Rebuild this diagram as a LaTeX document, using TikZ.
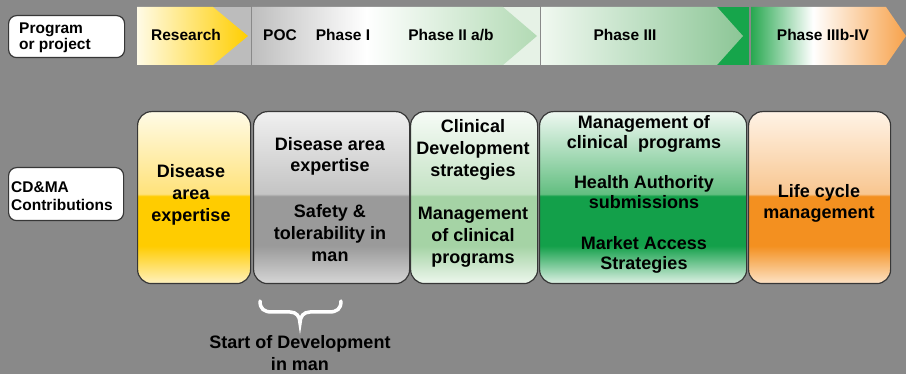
\documentclass[tikz,border=0pt]{standalone}
\usepackage{fontspec}
\setmainfont{Liberation Sans}
\definecolor{bg}{RGB}{137,137,137}
\definecolor{boxline}{RGB}{55,55,55}
\definecolor{resl}{RGB}{255,251,230}
\definecolor{resr}{RGB}{255,206,0}
\definecolor{pocgray}{RGB}{190,190,190}
\definecolor{poclg}{RGB}{178,218,180}
\definecolor{p3l}{RGB}{240,248,240}
\definecolor{p3r}{RGB}{140,198,150}
\definecolor{dgreen}{RGB}{22,165,75}
\definecolor{p4g}{RGB}{40,168,80}
\definecolor{p4o}{RGB}{247,162,75}
\definecolor{gapgray}{RGB}{188,188,188}
\definecolor{gaplg}{RGB}{230,242,230}
% box colours
\definecolor{ya}{HTML}{FFFBE6}\definecolor{yb}{HTML}{FFE27A}\definecolor{yc}{HTML}{FFCC00}\definecolor{yd}{HTML}{FFF2C0}
\definecolor{ga}{HTML}{F0F0F0}\definecolor{gb}{HTML}{C4C4C4}\definecolor{gc}{HTML}{9A9A9A}\definecolor{gd}{HTML}{D6D6D6}
\definecolor{la}{HTML}{F6FBF6}\definecolor{lb}{HTML}{C4E2C4}\definecolor{lc}{HTML}{A5D3A5}\definecolor{ld}{HTML}{EEF7EE}
\definecolor{da}{HTML}{EEF8F1}\definecolor{db}{HTML}{62BE80}\definecolor{dc}{HTML}{13A04A}\definecolor{dd}{HTML}{DFF1E5}
\definecolor{oa}{HTML}{FFF3E6}\definecolor{ob}{HTML}{F8C690}\definecolor{oc}{HTML}{F39020}\definecolor{od}{HTML}{FDE3C6}
\pgfdeclarehorizontalshading{pocshade}{100bp}{color(0bp)=(pocgray); color(25bp)=(pocgray); color(45bp)=(white); color(75bp)=(poclg); color(100bp)=(poclg)}
\pgfdeclarehorizontalshading{pfourshade}{100bp}{color(0bp)=(p4g); color(25bp)=(p4g); color(45bp)=(white); color(75bp)=(p4o); color(100bp)=(p4o)}
\newcommand\myglossshade[5]{\pgfdeclareverticalshading{#1}{100bp}{color(0bp)=(#5); color(25bp)=(#5); color(36bp)=(#4); color(50.5bp)=(#4); color(51bp)=(#3); color(75bp)=(#2); color(100bp)=(#2)}}
\myglossshade{glossy}{ya}{yb}{yc}{yd}
\myglossshade{glossg}{ga}{gb}{gc}{gd}
\myglossshade{glossl}{la}{lb}{lc}{ld}
\myglossshade{glossd}{da}{db}{dc}{dd}
\myglossshade{glosso}{oa}{ob}{oc}{od}
\tikzset{
  lbl/.style={inner sep=0pt, font=\bfseries\fontsize{15.5}{14}\selectfont, text=black},
  sidebox/.style={draw=boxline, line width=1.2pt, fill=white, rounded corners=8pt, anchor=north west, inner sep=0pt},
  boxtxt/.style={inner sep=0pt, anchor=north, align=center, font=\bfseries\fontsize{18}{#1}\selectfont, text=black},
  boxtxt/.default=22,
  cbox/.style={draw=boxline, line width=1.2pt, rounded corners=14pt, anchor=north west, inner sep=0pt,
    shade, shading=#1, minimum height=172pt},
}
\begin{document}
\begin{tikzpicture}[x=1pt,y=-1pt]
\useasboundingbox (0,0) rectangle (906,374);
\fill[bg] (0,0) rectangle (906,374);

% top band
\fill[gapgray] (213,7) rectangle (251,65);
\fill[gaplg] (503,7) rectangle (540,65);
\fill[dgreen] (717,7) rectangle (749,65);
\shade[left color=resl, right color=resr] (137,7) -- (213,7) -- (248,36) -- (213,65) -- (137,65) -- cycle;
\shade[shading=pocshade] (252,7) -- (503,7) -- (537,36) -- (503,65) -- (252,65) -- cycle;
\shade[left color=p3l, right color=p3r] (541,7) -- (717,7) -- (743,36) -- (717,65) -- (541,65) -- cycle;
\shade[shading=pfourshade] (751,7) -- (886,7) -- (906,36) -- (886,65) -- (751,65) -- cycle;

\node[lbl, anchor=base] (research) at (186,41) {Research};
\node[lbl, anchor=base] (poc) at (280,41) {POC};
\node[lbl, anchor=base] (ph1) at (343,41) {Phase I};
\node[lbl, anchor=base] (ph2) at (451,41) {Phase II a/b};
\node[lbl, anchor=base] (ph3) at (625,41) {Phase III};
\node[lbl, anchor=base] (ph4) at (823,41) {Phase IIIb-IV};

% left boxes
\node[sidebox, minimum width=116pt, minimum height=42pt] (prog) at (8,15) {};
\node[lbl, anchor=north west, align=left] (progtxt) at (19,23) {Program\\or project};
\node[sidebox, minimum width=115pt, minimum height=53pt] (cdma) at (8,167) {};
\node[lbl, anchor=north west, align=left, font=\bfseries\fontsize{15.5}{18}\selectfont] (cdmatxt) at (11,181) {CD\&MA\\Contributions};

% contribution boxes
\node[cbox=glossy, minimum width=113pt] (b1) at (137,111) {};
\node[cbox=glossg, minimum width=156pt] (b2) at (253,111) {};
\node[cbox=glossl, minimum width=127pt] (b3) at (410,111) {};
\node[cbox=glossd, minimum width=207pt] (b4) at (539,111) {};
\node[cbox=glosso, minimum width=142pt] (b5) at (748,111) {};

\node[boxtxt] (t1) at (191,164) {Disease\\area\\expertise};
\node[boxtxt=21] (t2a) at (330,137) {Disease area\\expertise};
\node[boxtxt] (t2b) at (330,204) {Safety \&\\tolerability in\\man};
\node[boxtxt] (t3a) at (473,119) {Clinical\\Development\\strategies};
\node[boxtxt] (t3b) at (473,207) {Management\\of clinical\\programs};
\node[boxtxt=20] (t4a) at (644,115) {Management of\\clinical\ \ programs};
\node[boxtxt=20] (t4b) at (644,175) {Health Authority\\submissions};
\node[boxtxt=20] (t4c) at (644,236) {Market Access\\Strategies};
\node[boxtxt=21] (t5) at (819,184) {Life cycle\\management};

% brace and bottom label
\draw[white, line width=3.5pt, line cap=round]
  (260,301) .. controls (260,309) and (264,312) .. (272,312) -- (290,312)
  .. controls (296,312) and (300,316) .. (300,323)
  .. controls (300,316) and (304,312) .. (310,312) -- (329,312)
  .. controls (337,312) and (341,309) .. (341,301);
\node[boxtxt] (start) at (300,335) {Start of Development\\in man};
\end{tikzpicture}
\end{document}
